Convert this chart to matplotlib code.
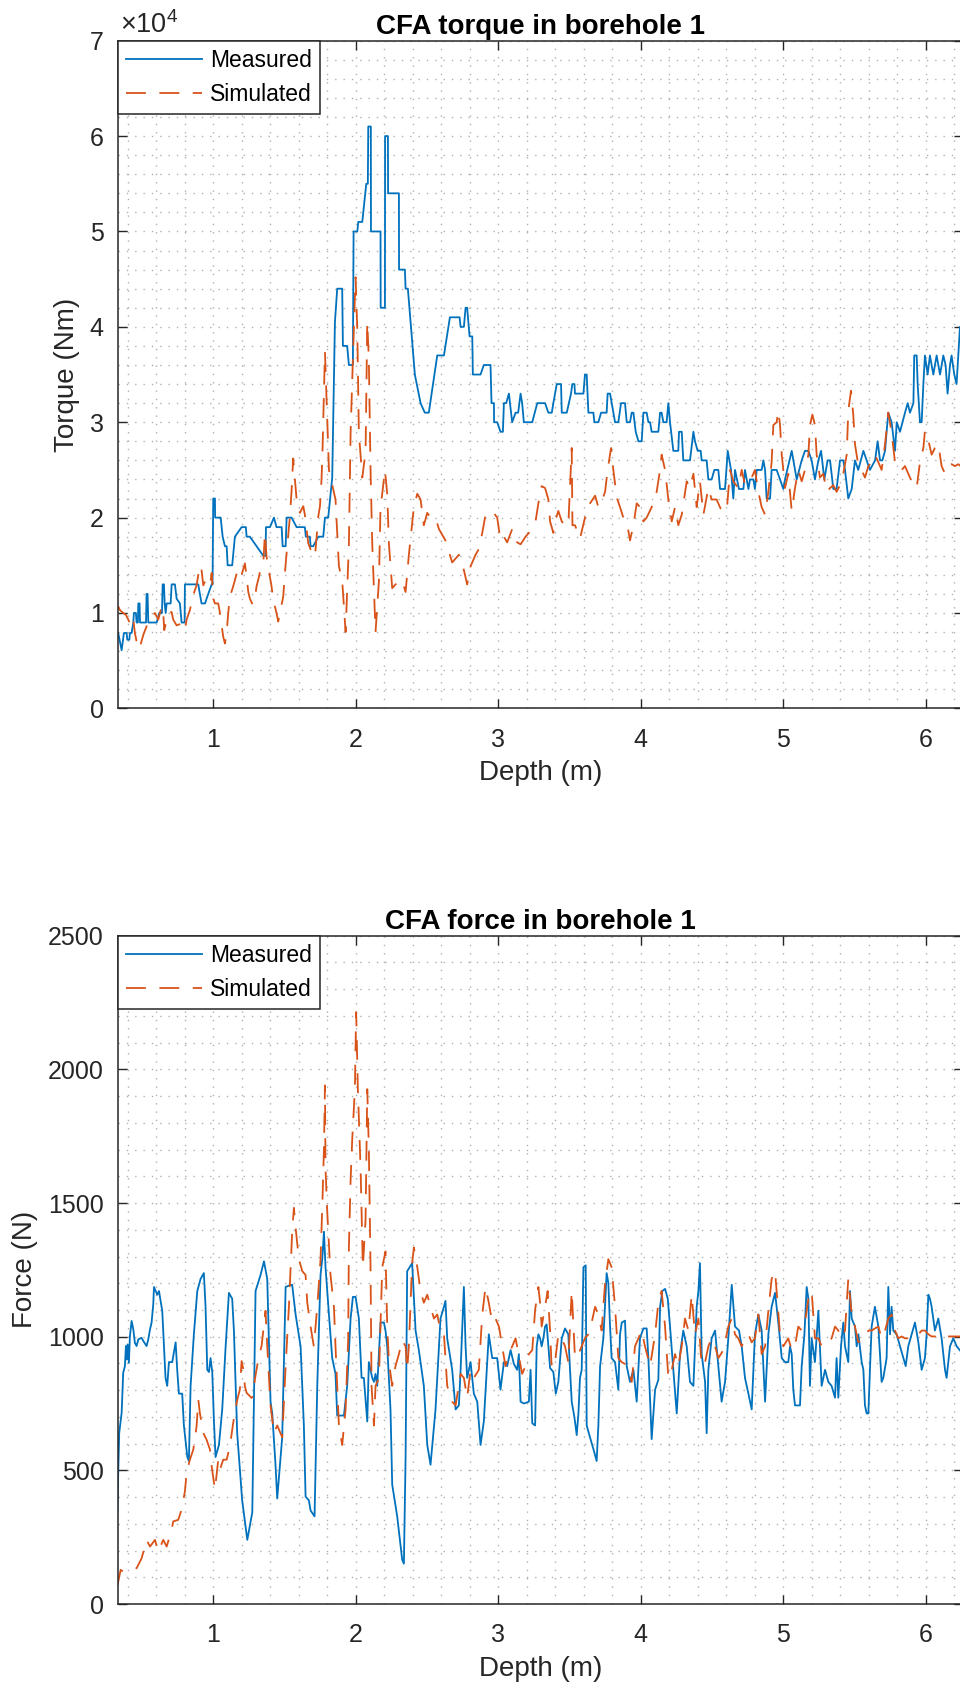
import numpy as np
import matplotlib.pyplot as plt
from matplotlib.ticker import MultipleLocator, FuncFormatter

plt.rcParams['font.family'] = ['Liberation Sans', 'DejaVu Sans']
plt.rcParams['mathtext.fontset'] = 'custom'
plt.rcParams['mathtext.rm'] = 'Liberation Sans'

# (depth m, torque Nm)
torque_measured = [
    (0.333, 7900), (0.357, 6100), (0.373, 7900), (0.392, 7900), (0.397, 7200), (0.411, 7200),
    (0.415, 7900), (0.427, 7900), (0.439, 9000), (0.443, 10000), (0.457, 10000), (0.462, 9000),
    (0.471, 9000), (0.474, 11000), (0.483, 11000), (0.486, 9000), (0.528, 9000), (0.532, 12000),
    (0.539, 12000), (0.544, 9000), (0.603, 9000), (0.621, 10000), (0.640, 10000), (0.645, 13000),
    (0.654, 13000), (0.659, 11000), (0.666, 10000), (0.673, 11000), (0.701, 11000), (0.708, 13000),
    (0.731, 13000), (0.743, 11500), (0.766, 11000), (0.778, 9000), (0.799, 9000), (0.801, 13000),
    (0.895, 13000), (0.906, 12000), (0.918, 11000), (0.942, 11000), (0.965, 12000), (0.989, 13000),
    (0.995, 13000), (1.000, 22000), (1.012, 22000), (1.013, 20000), (1.052, 20000), (1.066, 18000),
    (1.082, 17000), (1.094, 17000), (1.101, 15000), (1.133, 15000), (1.152, 18000), (1.199, 19000),
    (1.229, 19000), (1.234, 18000), (1.257, 18000), (1.304, 17000), (1.351, 16000), (1.367, 16000),
    (1.370, 19000), (1.398, 19000), (1.426, 20000), (1.444, 19000), (1.480, 19000), (1.487, 17000),
    (1.508, 17000), (1.515, 20000), (1.550, 20000), (1.585, 19000), (1.643, 19000), (1.650, 18000),
    (1.678, 18000), (1.683, 17000), (1.702, 17000), (1.737, 18000), (1.772, 18000), (1.784, 20000),
    (1.807, 20000), (1.835, 24200), (1.854, 40500), (1.870, 44000), (1.905, 44000), (1.910, 38000),
    (1.940, 38000), (1.952, 36000), (1.980, 36000), (1.985, 50000), (2.011, 50000), (2.018, 51000),
    (2.046, 51000), (2.074, 55000), (2.085, 55000), (2.088, 61000), (2.106, 61000), (2.107, 50000),
    (2.174, 50000), (2.175, 42000), (2.205, 42000), (2.206, 60000), (2.226, 60000), (2.227, 54000),
    (2.303, 54000), (2.304, 46000), (2.345, 46000), (2.350, 44000), (2.366, 44000), (2.415, 35000),
    (2.455, 32000), (2.485, 31000), (2.513, 31000), (2.572, 37000), (2.619, 37000), (2.661, 41000),
    (2.729, 41000), (2.736, 40000), (2.759, 40000), (2.771, 42000), (2.782, 42000), (2.799, 39000),
    (2.818, 39000), (2.822, 35000), (2.876, 35000), (2.899, 36000), (2.946, 36000), (2.953, 32000),
    (2.970, 32000), (2.971, 30000), (2.993, 30000), (3.016, 29000), (3.033, 29000), (3.040, 32000),
    (3.056, 32000), (3.075, 33000), (3.098, 30000), (3.122, 31000), (3.140, 31000), (3.157, 33000),
    (3.168, 32000), (3.180, 30000), (3.239, 30000), (3.274, 32000), (3.329, 32000), (3.352, 31000),
    (3.376, 31000), (3.387, 32000), (3.411, 34000), (3.441, 34000), (3.446, 31000), (3.481, 31000),
    (3.511, 33000), (3.520, 34000), (3.535, 34000), (3.539, 33000), (3.598, 33000), (3.609, 35000),
    (3.621, 35000), (3.633, 31000), (3.668, 31000), (3.675, 30000), (3.703, 30000), (3.722, 31000),
    (3.761, 31000), (3.768, 33000), (3.785, 33000), (3.820, 30000), (3.843, 30000), (3.862, 32000),
    (3.890, 32000), (3.902, 30000), (3.925, 30000), (3.937, 31000), (3.949, 31000), (3.965, 29000),
    (3.984, 28000), (4.007, 28000), (4.019, 31000), (4.042, 31000), (4.054, 30000), (4.066, 30000),
    (4.077, 29000), (4.124, 29000), (4.136, 31000), (4.147, 31000), (4.159, 30000), (4.182, 30000),
    (4.194, 32000), (4.206, 30000), (4.229, 27000), (4.264, 27000), (4.269, 29000), (4.288, 29000),
    (4.299, 26000), (4.346, 26000), (4.370, 29000), (4.381, 28000), (4.400, 27000), (4.421, 27000),
    (4.428, 26000), (4.463, 26000), (4.475, 24000), (4.498, 24000), (4.517, 25000), (4.545, 25000),
    (4.557, 23000), (4.592, 23000), (4.611, 27000), (4.634, 25000), (4.650, 22000), (4.662, 25000),
    (4.690, 23000), (4.721, 23000), (4.732, 25000), (4.756, 23000), (4.767, 24000), (4.791, 24000),
    (4.802, 23000), (4.814, 25000), (4.849, 25000), (4.861, 26000), (4.873, 25000), (4.884, 22000),
    (4.908, 22000), (4.919, 25000), (4.954, 25000), (4.978, 24000), (5.001, 23000), (5.013, 24000),
    (5.060, 27000), (5.095, 24000), (5.130, 26000), (5.153, 27000), (5.177, 27000), (5.200, 26000),
    (5.223, 24000), (5.247, 26000), (5.266, 27000), (5.289, 24000), (5.312, 26000), (5.329, 26000),
    (5.352, 23000), (5.375, 23000), (5.399, 26000), (5.422, 26000), (5.434, 25000), (5.457, 22000),
    (5.481, 23000), (5.504, 26000), (5.527, 25000), (5.563, 27000), (5.586, 26000), (5.609, 25000),
    (5.645, 26000), (5.663, 28000), (5.680, 26000), (5.696, 26000), (5.715, 27000), (5.726, 29000),
    (5.738, 31000), (5.761, 30000), (5.785, 27000), (5.797, 30000), (5.820, 29000), (5.855, 31000),
    (5.874, 32000), (5.890, 31000), (5.914, 32000), (5.920, 37000), (5.937, 37000), (5.944, 34000),
    (5.960, 30000), (5.972, 30000), (5.984, 34000), (5.995, 37000), (6.014, 35000), (6.030, 37000),
    (6.054, 35000), (6.077, 37000), (6.101, 35000), (6.124, 37000), (6.140, 36000), (6.154, 33000),
    (6.171, 36000), (6.182, 37000), (6.201, 35000), (6.217, 34000), (6.229, 37000), (6.241, 40000),
    (6.262, 40000),
]

torque_simulated = [
    (0.333, 10700), (0.345, 10300), (0.368, 10000), (0.387, 9800), (0.404, 9300), (0.422, 8600),
    (0.439, 9300), (0.450, 7900), (0.462, 7000), (0.481, 6200), (0.509, 7700), (0.532, 8600),
    (0.544, 9300), (0.567, 9600), (0.591, 10000), (0.614, 9300), (0.638, 10700), (0.649, 10000),
    (0.656, 8200), (0.673, 9300), (0.684, 10000), (0.708, 10100), (0.719, 9300), (0.743, 8700),
    (0.778, 8900), (0.801, 8200), (0.813, 9300), (0.836, 10300), (0.860, 11900), (0.883, 12900),
    (0.906, 15000), (0.918, 14500), (0.930, 12900), (0.942, 13300), (0.953, 12800), (0.977, 12900),
    (0.989, 14200), (1.000, 11500), (1.012, 11000), (1.035, 11000), (1.047, 10000), (1.059, 8700),
    (1.070, 7500), (1.082, 6800), (1.094, 7900), (1.105, 10000), (1.117, 11700), (1.140, 12800),
    (1.164, 14100), (1.176, 14700), (1.199, 14000), (1.222, 15200), (1.234, 13800), (1.246, 12200),
    (1.257, 11500), (1.276, 10900), (1.292, 11500), (1.304, 12800), (1.316, 13500), (1.328, 14300),
    (1.351, 15200), (1.363, 18400), (1.374, 15900), (1.398, 13800), (1.409, 12800), (1.421, 11400),
    (1.444, 10000), (1.456, 9100), (1.468, 10000), (1.491, 11700), (1.503, 14200), (1.515, 16300),
    (1.538, 20100), (1.550, 22900), (1.561, 26200), (1.573, 24000), (1.585, 21900), (1.608, 20500),
    (1.632, 21200), (1.643, 20300), (1.667, 17300), (1.690, 16400), (1.714, 15900), (1.737, 20100),
    (1.749, 21200), (1.760, 24000), (1.767, 27100), (1.772, 30200), (1.784, 37400), (1.812, 25000),
    (1.858, 21900), (1.882, 14900), (1.905, 13400), (1.929, 8000), (1.952, 17200), (1.964, 28900),
    (1.980, 36600), (1.999, 45200), (2.011, 39700), (2.022, 28900), (2.046, 24200), (2.069, 26900),
    (2.081, 40500), (2.092, 36600), (2.104, 25000), (2.116, 17200), (2.139, 8000), (2.163, 13400),
    (2.174, 21100), (2.186, 22500), (2.205, 25000), (2.221, 22500), (2.233, 17200), (2.256, 12600),
    (2.303, 13400), (2.326, 13400), (2.350, 12200), (2.373, 16100), (2.408, 21100), (2.432, 22500),
    (2.455, 21900), (2.478, 19200), (2.502, 20500), (2.525, 20000), (2.560, 20000), (2.584, 18800),
    (2.630, 17600), (2.677, 15300), (2.724, 16100), (2.759, 14500), (2.782, 13000), (2.806, 14900),
    (2.841, 16100), (2.864, 16700), (2.888, 18400), (2.911, 20300), (2.958, 20700), (2.993, 20000),
    (3.016, 17600), (3.040, 18000), (3.063, 17400), (3.098, 18800), (3.133, 17400), (3.157, 17200),
    (3.192, 18000), (3.227, 18600), (3.262, 19600), (3.282, 21500), (3.305, 23300), (3.329, 23100),
    (3.352, 21900), (3.364, 19600), (3.387, 18400), (3.399, 19600), (3.422, 20700), (3.446, 19600),
    (3.469, 19200), (3.492, 19200), (3.516, 27300), (3.521, 19200), (3.539, 19200), (3.574, 17800),
    (3.609, 20000), (3.645, 21500), (3.680, 22300), (3.703, 21100), (3.726, 21700), (3.750, 22700),
    (3.768, 25000), (3.792, 27300), (3.808, 25000), (3.832, 22100), (3.855, 21100), (3.878, 20000),
    (3.902, 19600), (3.925, 17600), (3.949, 19200), (3.972, 21500), (3.995, 21100), (4.019, 19600),
    (4.042, 20000), (4.077, 21100), (4.112, 22700), (4.136, 25000), (4.147, 26600), (4.171, 25000),
    (4.194, 21900), (4.218, 19600), (4.241, 21100), (4.264, 19200), (4.288, 20300), (4.323, 23800),
    (4.346, 23100), (4.370, 24600), (4.393, 21100), (4.416, 23800), (4.440, 20300), (4.475, 23100),
    (4.498, 21900), (4.533, 21900), (4.568, 20700), (4.604, 20700), (4.627, 25000), (4.650, 23800),
    (4.685, 23100), (4.709, 25000), (4.732, 23400), (4.767, 23800), (4.802, 25000), (4.826, 22700),
    (4.849, 21100), (4.873, 20300), (4.896, 22700), (4.919, 25800), (4.931, 29700), (4.954, 30000),
    (4.966, 31200), (4.978, 29700), (4.990, 26600), (5.001, 25000), (5.013, 23100), (5.036, 24600),
    (5.060, 20700), (5.083, 23100), (5.106, 25000), (5.130, 23800), (5.153, 25000), (5.177, 26600),
    (5.188, 29700), (5.205, 30800), (5.223, 29700), (5.235, 26600), (5.258, 24200), (5.282, 24600),
    (5.305, 22700), (5.329, 23100), (5.352, 23400), (5.375, 22700), (5.399, 23400), (5.422, 24600),
    (5.446, 26600), (5.457, 31200), (5.476, 33300), (5.492, 30800), (5.504, 27700), (5.528, 25400),
    (5.551, 25000), (5.574, 24200), (5.598, 25400), (5.621, 25800), (5.644, 26600), (5.668, 25800),
    (5.691, 25000), (5.715, 27700), (5.738, 31000), (5.761, 28900), (5.785, 25800), (5.808, 25000),
    (5.832, 25000), (5.855, 25400), (5.878, 24600), (5.902, 23800), (5.937, 23100), (5.960, 25800),
    (5.984, 27300), (5.995, 29100), (6.019, 28100), (6.042, 26600), (6.065, 27300), (6.089, 27700),
    (6.112, 25400), (6.136, 24600), (6.159, 25400), (6.182, 25600), (6.206, 25400), (6.229, 25600),
    (6.262, 25200),
]

# (depth m, force N)
force_measured = [
    (0.326, 315), (0.333, 490), (0.340, 640), (0.357, 715), (0.368, 865), (0.380, 890),
    (0.387, 965), (0.392, 915), (0.399, 971), (0.408, 902), (0.415, 1002), (0.427, 1059),
    (0.439, 1027), (0.450, 977), (0.462, 965), (0.474, 990), (0.497, 996), (0.509, 984),
    (0.532, 965), (0.544, 990), (0.556, 1027), (0.567, 1052), (0.579, 1121), (0.584, 1186),
    (0.607, 1157), (0.619, 1171), (0.642, 1097), (0.654, 964), (0.665, 846), (0.677, 816),
    (0.689, 905), (0.712, 905), (0.736, 979), (0.747, 876), (0.759, 787), (0.782, 787),
    (0.794, 668), (0.818, 550), (0.829, 535), (0.841, 816), (0.864, 1009), (0.888, 1171),
    (0.911, 1216), (0.934, 1238), (0.946, 1112), (0.958, 876), (0.970, 868), (0.981, 920),
    (0.993, 868), (1.005, 683), (1.016, 550), (1.040, 595), (1.063, 728), (1.087, 964),
    (1.110, 1164), (1.133, 1142), (1.145, 1023), (1.168, 639), (1.203, 388), (1.239, 240),
    (1.274, 343), (1.297, 1171), (1.332, 1231), (1.356, 1282), (1.379, 1216), (1.402, 757),
    (1.414, 713), (1.437, 521), (1.449, 395), (1.484, 624), (1.508, 1186), (1.543, 1194),
    (1.554, 1194), (1.578, 1083), (1.613, 964), (1.636, 668), (1.648, 402), (1.671, 388),
    (1.683, 350), (1.711, 328), (1.730, 816), (1.753, 1231), (1.765, 1290), (1.777, 1393),
    (1.788, 1260), (1.812, 1083), (1.835, 920), (1.858, 861), (1.870, 705), (1.894, 705),
    (1.917, 705), (1.940, 816), (1.964, 1068), (1.980, 1149), (1.999, 1149), (2.022, 1068),
    (2.041, 846), (2.057, 846), (2.074, 728), (2.081, 683), (2.092, 905), (2.116, 846),
    (2.128, 831), (2.139, 861), (2.151, 816), (2.174, 1053), (2.198, 1053), (2.209, 1023),
    (2.221, 964), (2.244, 728), (2.256, 447), (2.291, 328), (2.326, 166), (2.338, 151),
    (2.350, 550), (2.361, 1245), (2.396, 1275), (2.420, 1023), (2.443, 950), (2.478, 816),
    (2.502, 595), (2.525, 521), (2.560, 728), (2.584, 964), (2.595, 1068), (2.619, 1112),
    (2.630, 1134), (2.642, 994), (2.677, 876), (2.701, 728), (2.724, 743), (2.736, 876),
    (2.759, 1186), (2.771, 964), (2.782, 846), (2.806, 905), (2.829, 787), (2.853, 757),
    (2.876, 595), (2.899, 683), (2.934, 1009), (2.958, 920), (2.993, 920), (3.016, 802),
    (3.040, 905), (3.063, 890), (3.087, 950), (3.110, 898), (3.133, 876), (3.145, 935),
    (3.157, 757), (3.180, 750), (3.215, 757), (3.227, 876), (3.239, 676), (3.259, 668),
    (3.270, 964), (3.282, 1009), (3.294, 994), (3.305, 964), (3.317, 994), (3.329, 1038),
    (3.340, 1046), (3.352, 964), (3.364, 883), (3.387, 868), (3.404, 787), (3.422, 831),
    (3.446, 994), (3.469, 1031), (3.492, 1009), (3.504, 876), (3.516, 757), (3.535, 698),
    (3.551, 632), (3.563, 713), (3.574, 846), (3.586, 876), (3.598, 1260), (3.614, 1267),
    (3.621, 668), (3.644, 624), (3.668, 580), (3.691, 535), (3.703, 668), (3.715, 890),
    (3.738, 994), (3.761, 1238), (3.773, 1201), (3.785, 1038), (3.796, 920), (3.820, 905),
    (3.843, 802), (3.855, 1009), (3.867, 1053), (3.890, 1060), (3.902, 890), (3.925, 831),
    (3.949, 876), (3.972, 757), (3.995, 994), (4.019, 1031), (4.042, 1031), (4.054, 920),
    (4.077, 617), (4.101, 802), (4.124, 839), (4.136, 1112), (4.152, 1171), (4.171, 1179),
    (4.190, 1142), (4.206, 1038), (4.229, 876), (4.253, 713), (4.276, 935), (4.299, 1023),
    (4.323, 964), (4.346, 831), (4.370, 816), (4.393, 1112), (4.405, 1171), (4.416, 1275),
    (4.428, 935), (4.452, 831), (4.463, 639), (4.475, 876), (4.498, 994), (4.522, 1023),
    (4.545, 890), (4.568, 757), (4.592, 831), (4.615, 994), (4.639, 1194), (4.662, 1038),
    (4.690, 1023), (4.709, 964), (4.732, 846), (4.756, 787), (4.779, 728), (4.802, 1009),
    (4.826, 1083), (4.849, 1023), (4.873, 757), (4.896, 1009), (4.919, 1112), (4.943, 1164),
    (4.966, 1053), (4.990, 920), (5.013, 905), (5.036, 905), (5.048, 964), (5.060, 935),
    (5.071, 802), (5.083, 743), (5.118, 743), (5.130, 890), (5.149, 1009), (5.165, 1186),
    (5.177, 1142), (5.188, 816), (5.200, 994), (5.223, 905), (5.247, 1097), (5.258, 964),
    (5.270, 816), (5.294, 876), (5.317, 831), (5.340, 816), (5.364, 772), (5.375, 920),
    (5.387, 772), (5.406, 964), (5.422, 1053), (5.434, 964), (5.457, 905), (5.469, 1171),
    (5.481, 1068), (5.504, 1038), (5.516, 964), (5.528, 1009), (5.551, 905), (5.563, 876),
    (5.574, 743), (5.586, 713), (5.598, 713), (5.609, 876), (5.621, 1038), (5.644, 1112),
    (5.668, 1038), (5.691, 831), (5.703, 846), (5.726, 920), (5.738, 1186), (5.750, 1009),
    (5.761, 1112), (5.773, 1023), (5.796, 1009), (5.820, 964), (5.843, 920), (5.860, 890),
    (5.878, 964), (5.902, 1009), (5.925, 1053), (5.949, 979), (5.972, 876), (5.995, 920),
    (6.007, 1009), (6.019, 1157), (6.030, 1142), (6.042, 1112), (6.065, 1023), (6.089, 1068),
    (6.112, 994), (6.136, 876), (6.147, 846), (6.171, 964), (6.194, 994), (6.218, 964),
    (6.262, 935),
]

force_simulated = [
    (0.326, 65), (0.340, 103), (0.350, 128), (0.368, 121), (0.387, 128), (0.415, 130),
    (0.462, 134), (0.497, 171), (0.514, 203), (0.532, 240), (0.556, 215), (0.591, 240),
    (0.614, 196), (0.649, 240), (0.673, 215), (0.708, 278), (0.719, 309), (0.754, 315),
    (0.778, 353), (0.801, 421), (0.813, 490), (0.836, 540), (0.860, 578), (0.883, 665),
    (0.895, 765), (0.906, 715), (0.930, 640), (0.953, 615), (0.977, 578), (0.989, 515),
    (1.012, 428), (1.035, 540), (1.047, 503), (1.070, 540), (1.094, 540), (1.117, 590),
    (1.140, 678), (1.169, 765), (1.187, 803), (1.199, 909), (1.211, 878), (1.222, 815),
    (1.234, 790), (1.269, 771), (1.281, 778), (1.292, 840), (1.316, 915), (1.339, 965),
    (1.367, 1097), (1.379, 964), (1.391, 846), (1.402, 743), (1.426, 639), (1.449, 668),
    (1.484, 624), (1.508, 890), (1.531, 1112), (1.554, 1393), (1.566, 1482), (1.578, 1408),
    (1.601, 1290), (1.625, 1245), (1.648, 1231), (1.660, 1127), (1.683, 1038), (1.706, 964),
    (1.730, 1112), (1.753, 1290), (1.765, 1482), (1.777, 1704), (1.784, 1940), (1.788, 1630),
    (1.800, 1467), (1.823, 1231), (1.847, 1112), (1.858, 964), (1.870, 816), (1.882, 668),
    (1.905, 595), (1.929, 728), (1.947, 994), (1.952, 1334), (1.964, 1585), (1.975, 1733),
    (1.994, 1926), (2.003, 2214), (2.015, 1926), (2.034, 1630), (2.050, 1260), (2.069, 1438),
    (2.081, 1926), (2.092, 1704), (2.104, 1260), (2.111, 816), (2.128, 668), (2.139, 816),
    (2.163, 846), (2.186, 1260), (2.209, 1319), (2.221, 1038), (2.233, 905), (2.256, 816),
    (2.279, 890), (2.303, 935), (2.326, 987), (2.350, 964), (2.361, 876), (2.373, 964),
    (2.396, 1275), (2.408, 1334), (2.432, 1260), (2.455, 1171), (2.478, 1127), (2.502, 1157),
    (2.525, 1112), (2.549, 1068), (2.572, 1083), (2.595, 1023), (2.619, 1009), (2.642, 816),
    (2.677, 757), (2.701, 743), (2.736, 861), (2.759, 846), (2.782, 772), (2.806, 876),
    (2.829, 846), (2.864, 876), (2.888, 1083), (2.911, 1186), (2.934, 1127), (2.958, 1053),
    (2.981, 1068), (3.005, 1038), (3.028, 964), (3.051, 890), (3.075, 935), (3.098, 964),
    (3.122, 994), (3.145, 927), (3.168, 861), (3.192, 890), (3.215, 935), (3.239, 950),
    (3.259, 1100), (3.282, 1186), (3.294, 1127), (3.305, 1038), (3.329, 1112), (3.347, 1171),
    (3.364, 1023), (3.375, 883), (3.399, 905), (3.422, 1009), (3.446, 994), (3.469, 964),
    (3.492, 905), (3.516, 1171), (3.528, 1038), (3.539, 920), (3.563, 935), (3.586, 964),
    (3.609, 994), (3.633, 1009), (3.656, 1053), (3.680, 1112), (3.703, 1083), (3.726, 1023),
    (3.750, 1201), (3.773, 1290), (3.796, 1260), (3.820, 1112), (3.843, 920), (3.867, 905),
    (3.890, 898), (3.913, 876), (3.937, 831), (3.960, 964), (3.984, 994), (4.007, 1023),
    (4.030, 964), (4.066, 890), (4.101, 1009), (4.124, 1127), (4.147, 1171), (4.171, 1038),
    (4.194, 846), (4.218, 876), (4.241, 935), (4.264, 890), (4.288, 964), (4.311, 1068),
    (4.335, 1023), (4.358, 1157), (4.381, 1009), (4.405, 1068), (4.428, 890), (4.452, 905),
    (4.475, 964), (4.498, 994), (4.522, 964), (4.545, 920), (4.580, 950), (4.615, 1038),
    (4.639, 1068), (4.662, 1009), (4.685, 994), (4.709, 964), (4.732, 994), (4.756, 1009),
    (4.779, 979), (4.802, 994), (4.826, 1083), (4.849, 935), (4.873, 964), (4.896, 1097),
    (4.919, 1216), (4.943, 1245), (4.954, 1171), (4.978, 1009), (5.001, 964), (5.036, 994),
    (5.060, 950), (5.083, 964), (5.106, 1038), (5.130, 1023), (5.153, 1053), (5.177, 1142),
    (5.200, 1171), (5.223, 994), (5.247, 994), (5.270, 964), (5.294, 964), (5.317, 979),
    (5.340, 994), (5.364, 1038), (5.387, 1023), (5.411, 994), (5.434, 1023), (5.457, 1216),
    (5.481, 1083), (5.504, 1038), (5.528, 979), (5.551, 994), (5.574, 994), (5.598, 1023),
    (5.621, 1023), (5.644, 1031), (5.668, 1038), (5.691, 994), (5.715, 1023), (5.738, 1068),
    (5.761, 1083), (5.785, 1023), (5.808, 994), (5.832, 1001), (5.855, 994), (5.878, 994),
    (5.902, 994), (5.925, 1009), (5.949, 1009), (5.972, 1023), (5.995, 1023), (6.019, 1009),
    (6.042, 1001), (6.065, 1001), (6.089, 1009), (6.112, 1001), (6.136, 1001), (6.262, 1001),
]

BLUE = '#0072BD'
ORANGE = '#D95319'
INK = '#262626'
GRID = '#b0b0b0'
DASHED = (0, (11, 7.5))
DOTTED = (0, (1, 5))


def split(pairs):
    arr = np.array(pairs, dtype=float)
    return arr[:, 0], arr[:, 1]


def setup_axes(ax, ymax, ymajor, yminor):
    ax.set_xlim(0.328, 6.262)
    ax.set_ylim(0, ymax)
    ax.xaxis.set_major_locator(MultipleLocator(1))
    ax.xaxis.set_minor_locator(MultipleLocator(0.2))
    ax.yaxis.set_major_locator(MultipleLocator(ymajor))
    ax.yaxis.set_minor_locator(MultipleLocator(yminor))
    ax.grid(which='both', color=GRID, linestyle=DOTTED, linewidth=1.0)
    ax.set_axisbelow(True)
    ax.tick_params(which='major', direction='in', length=6.5, width=1.0,
                   top=True, right=True, colors=INK, labelsize=18)
    ax.tick_params(axis='x', which='major', pad=14)
    ax.tick_params(axis='y', which='major', pad=10)
    ax.tick_params(which='minor', length=0)
    for spine in ax.spines.values():
        spine.set_color(INK)
        spine.set_linewidth(1.1)
    ax.set_xlabel('Depth (m)', fontsize=20, color=INK, labelpad=6)


def add_legend(ax):
    leg = ax.legend(loc='upper left', borderaxespad=0, fontsize=16.5,
                    handlelength=3.35, handletextpad=0.33, borderpad=0.35,
                    labelspacing=0.5, fancybox=False, framealpha=1,
                    edgecolor=INK)
    leg.get_frame().set_linewidth(1.1)
    for t in leg.get_texts():
        t.set_color('black')


fig = plt.figure(figsize=(9.6, 16.89), dpi=100)
ax1 = fig.add_axes([0.1224, 0.5806, 0.8807, 0.3953])
ax2 = fig.add_axes([0.1224, 0.0503, 0.8807, 0.3957])

# torque panel
d, v = split(torque_measured)
ax1.plot(d, v, color=BLUE, lw=1.3, label='Measured')
d, v = split(torque_simulated)
ax1.plot(d, v, color=ORANGE, lw=1.3, linestyle=DASHED, label='Simulated')
setup_axes(ax1, 70000, 10000, 2000)
ax1.yaxis.set_major_formatter(FuncFormatter(lambda y, pos: f'{y / 1e4:g}'))
ax1.text(0.003, 1.011, r'$\times\mathregular{10^{4}}$', transform=ax1.transAxes,
         ha='left', va='baseline', fontsize=19.5, color=INK)
ax1.set_ylabel('Torque (Nm)', fontsize=20, color=INK, labelpad=7)
ax1.set_title('CFA torque in borehole 1', fontsize=20, fontweight='bold', pad=5)
add_legend(ax1)

# force panel
d, v = split(force_measured)
ax2.plot(d, v, color=BLUE, lw=1.3, label='Measured')
d, v = split(force_simulated)
ax2.plot(d, v, color=ORANGE, lw=1.3, linestyle=DASHED, label='Simulated')
setup_axes(ax2, 2500, 500, 100)
ax2.set_ylabel('Force (N)', fontsize=20, color=INK, labelpad=7)
ax2.set_title('CFA force in borehole 1', fontsize=20, fontweight='bold', pad=5)
add_legend(ax2)

fig.savefig('out.png', dpi=100)
